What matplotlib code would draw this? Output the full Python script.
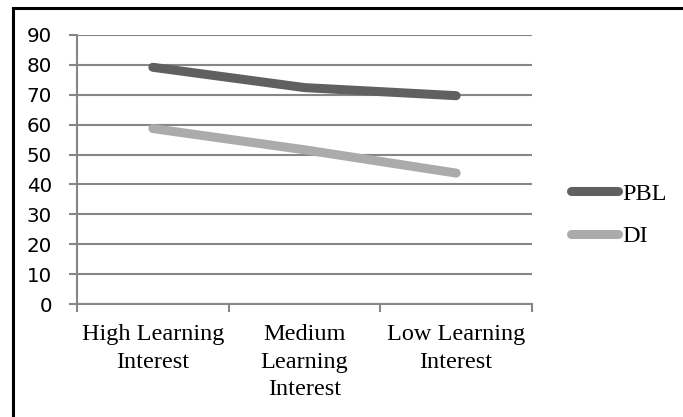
import matplotlib
matplotlib.use("Agg")
from matplotlib import pyplot as plt
from matplotlib.patches import Rectangle

categories = ["High Learning\nInterest", "Medium\nLearning\nInterest", "Low Learning\nInterest"]
pbl = [79.2, 72.4, 69.7]
di = [58.7, 51.6, 43.8]
yticks = [0, 10, 20, 30, 40, 50, 60, 70, 80, 90]

grid_col = "#868686"

fig = plt.figure(figsize=(6.83, 4.17), dpi=100)
ax = fig.add_axes([77/683, 113/417, 455/683, 269/417])

x = [0.5, 1.5, 2.5]
ax.plot(x, pbl, color="#606060", lw=6.5, solid_capstyle="round", label="PBL", zorder=3)
ax.plot(x, di, color="#ababab", lw=6.5, solid_capstyle="round", label="DI", zorder=3)

ax.set_xlim(0, 3)
ax.set_ylim(0, 90)
ax.set_yticks(yticks)
ax.set_yticklabels([str(v) for v in yticks], fontsize=14.3, family="DejaVu Sans")
ax.yaxis.grid(True, color=grid_col, lw=1.5)
ax.set_axisbelow(True)

ax.set_xticks([0, 1, 2, 3])
ax.set_xticklabels([])
ax.set_xticks(x, minor=True)
ax.set_xticklabels(categories, minor=True, fontsize=17.5, family="Liberation Serif", linespacing=1.4)
ax.tick_params(axis="x", which="minor", length=0, pad=14.5)
ax.tick_params(axis="x", which="major", length=6, width=1.5, color=grid_col, direction="out")
ax.tick_params(axis="y", length=6, width=1.5, color=grid_col, pad=12)

for s in ["top", "right"]:
    ax.spines[s].set_visible(False)
for s in ["left", "bottom"]:
    ax.spines[s].set_color(grid_col)
    ax.spines[s].set_linewidth(1.5)

leg = ax.legend(loc="center left", bbox_to_anchor=(571/683, 202/417), bbox_transform=fig.transFigure,
                frameon=False, handlelength=1.93, handletextpad=0.18, labelspacing=0.86,
                borderpad=0, borderaxespad=0, prop={"family": "Liberation Serif", "size": 17.5})

# outer frame of the chart box, cut off at right and bottom
fig.patches.append(Rectangle((13/683, -0.1), 1.2, (417 - 8)/417 + 0.1, transform=fig.transFigure,
                             fill=False, edgecolor="black", lw=2.2, clip_on=False))

plt.savefig("out.png", dpi=100)
